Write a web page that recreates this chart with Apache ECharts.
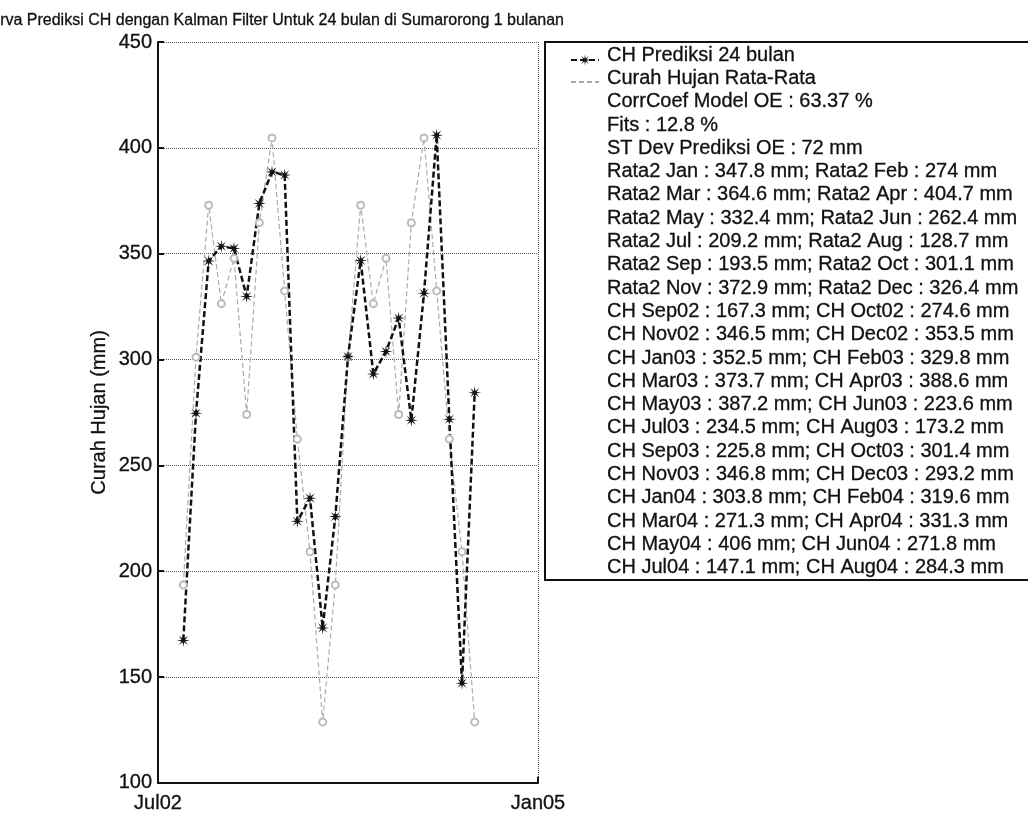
<!DOCTYPE html>
<html>
<head>
<meta charset="utf-8">
<script src="https://cdn.jsdelivr.net/npm/echarts@6/dist/echarts.min.js"></script>
<style>
  html, body { margin: 0; padding: 0; background: #fff; }
  #chart { width: 1028px; height: 814px; }
</style>
</head>
<body>
<div id="chart"></div>
<script>
const months = ['Sep02', 'Oct02', 'Nov02', 'Dec02', 'Jan03', 'Feb03', 'Mar03', 'Apr03',
  'May03', 'Jun03', 'Jul03', 'Aug03', 'Sep03', 'Oct03', 'Nov03', 'Dec03',
  'Jan04', 'Feb04', 'Mar04', 'Apr04', 'May04', 'Jun04', 'Jul04', 'Aug04'];
const prediksi = [167.3, 274.6, 346.5, 353.5, 352.5, 329.8, 373.7, 388.6,
  387.2, 223.6, 234.5, 173.2, 225.8, 301.4, 346.8, 293.2,
  303.8, 319.6, 271.3, 331.3, 406, 271.8, 147.1, 284.3];
const rataRata = [193.5, 301.1, 372.9, 326.4, 347.8, 274, 364.6, 404.7,
  332.4, 262.4, 209.2, 128.7, 193.5, 301.1, 372.9, 326.4,
  347.8, 274, 364.6, 404.7, 332.4, 262.4, 209.2, 128.7];
const bulan = ['Jan', 'Feb', 'Mar', 'Apr', 'May', 'Jun', 'Jul', 'Aug', 'Sep', 'Oct', 'Nov', 'Dec'];
const rataBulan = [347.8, 274, 364.6, 404.7, 332.4, 262.4, 209.2, 128.7, 193.5, 301.1, 372.9, 326.4];
const xTicks = ['Jul02', 'Jan05'];
const seriesNames = ['CH Prediksi 24 bulan', 'Curah Hujan Rata-Rata'];
const corrCoef = 63.37;
const fits = 12.8;
const stDev = 72;

const FONT = '"Liberation Sans", Arial, sans-serif';

// month label -> months since Jul02
function monthPos(lbl) {
  let m = bulan.indexOf(lbl.slice(0, 3));
  let y = 2000 + parseInt(lbl.slice(3), 10);
  return (y - 2002) * 12 + m - 6;
}
const xMax = monthPos(xTicks[1]);

// asterisk-ish marker (8 arms)
function starPath() {
  let pts = [];
  for (let i = 0; i < 16; i++) {
    let r = i % 2 === 0 ? 10 : 3;
    let a = (i * 22.5 - 90) * Math.PI / 180;
    pts.push((10 + r * Math.cos(a)).toFixed(2) + ' ' + (10 + r * Math.sin(a)).toFixed(2));
  }
  return 'path://M' + pts.join(' L') + ' Z';
}

// legend text lines (the two series names come first)
let lines = [
  seriesNames[0],
  seriesNames[1],
  'CorrCoef Model OE : ' + corrCoef + ' %',
  'Fits : ' + fits + ' %',
  'ST Dev Prediksi OE : ' + stDev + ' mm'
];
for (let i = 0; i < 12; i += 2) {
  lines.push('Rata2 ' + bulan[i] + ' : ' + rataBulan[i] + ' mm; Rata2 ' + bulan[i + 1] + ' : ' + rataBulan[i + 1] + ' mm');
}
for (let i = 0; i < months.length; i += 2) {
  lines.push('CH ' + months[i] + ' : ' + prediksi[i] + ' mm; CH ' + months[i + 1] + ' : ' + prediksi[i + 1] + ' mm');
}

const myEcharts = echarts.init(document.getElementById('chart'));
const option = {
  animation: false,
  backgroundColor: '#fff',
  textStyle: { fontFamily: FONT, color: '#111' },
  grid: { left: 158, right: 490, top: 42, bottom: 30 },
  legend: {
    left: 565,
    top: 48,
    orient: 'vertical',
    itemWidth: 28,
    itemHeight: 14,
    itemGap: 9.3,
    formatter: function () { return ''; },
    data: [
      { name: seriesNames[0] },
      { name: seriesNames[1], itemStyle: { opacity: 0 } }
    ]
  },
  xAxis: {
    type: 'value',
    min: 0,
    max: xMax,
    interval: xMax,
    axisLine: { lineStyle: { color: '#111', width: 2 } },
    axisTick: { inside: true, length: 6, lineStyle: { color: '#111', width: 2 } },
    axisLabel: {
      fontSize: 20, color: '#111', margin: 11,
      textBorderColor: '#111', textBorderWidth: 0.3,
      formatter: function (v) { return v === 0 ? xTicks[0] : (v === xMax ? xTicks[1] : ''); }
    },
    splitLine: { show: true, lineStyle: { type: 'dotted', color: '#555', width: 1 } }
  },
  yAxis: {
    type: 'value',
    min: 100,
    max: 450,
    interval: 50,
    name: 'Curah Hujan (mm)',
    nameLocation: 'middle',
    nameGap: 49,
    nameTextStyle: { fontSize: 20, color: '#111', textBorderColor: '#111', textBorderWidth: 0.3 },
    axisLine: { show: true, lineStyle: { color: '#111', width: 2 } },
    axisTick: { show: true, inside: true, length: 6, lineStyle: { color: '#111', width: 2 } },
    axisLabel: { fontSize: 20, color: '#111', margin: 6, textBorderColor: '#111', textBorderWidth: 0.3 },
    splitLine: { show: true, lineStyle: { type: 'dotted', color: '#555', width: 1 } }
  },
  series: [
    {
      name: seriesNames[1],
      type: 'line',
      symbol: 'emptyCircle',
      symbolSize: 7,
      lineStyle: { color: '#aaa', width: 1.2, type: [5, 3] },
      itemStyle: { color: '#bbb', borderColor: '#aaa', borderWidth: 1 },
      data: months.map(function (m, i) { return [monthPos(m), rataRata[i]]; })
    },
    {
      name: seriesNames[0],
      type: 'line',
      symbol: starPath(),
      symbolSize: 13,
      lineStyle: { color: '#111', width: 2.5, type: [6, 3] },
      itemStyle: { color: '#111' },
      data: months.map(function (m, i) { return [monthPos(m), prediksi[i]]; })
    }
  ],
  graphic: [
    {
      type: 'text',
      left: 0,
      top: 12,
      style: {
        text: 'rva Prediksi CH dengan Kalman Filter Untuk 24 bulan di Sumarorong 1 bulanan',
        font: '16px ' + FONT,
        fill: '#111',
        stroke: '#111',
        lineWidth: 0.3
      }
    },
    {
      type: 'rect',
      shape: { x: 545, y: 42, width: 520, height: 538 },
      style: { fill: 'none', stroke: '#111', lineWidth: 2 },
      z: 1
    },
    {
      type: 'text',
      x: 607,
      y: 43.5,
      style: {
        text: lines.join('\n'),
        font: '20px ' + FONT,
        lineHeight: 23.3,
        fill: '#111',
        stroke: '#111',
        lineWidth: 0.3,
        verticalAlign: 'top'
      }
    }
  ]
};
myEcharts.setOption(option);
</script>
</body>
</html>
